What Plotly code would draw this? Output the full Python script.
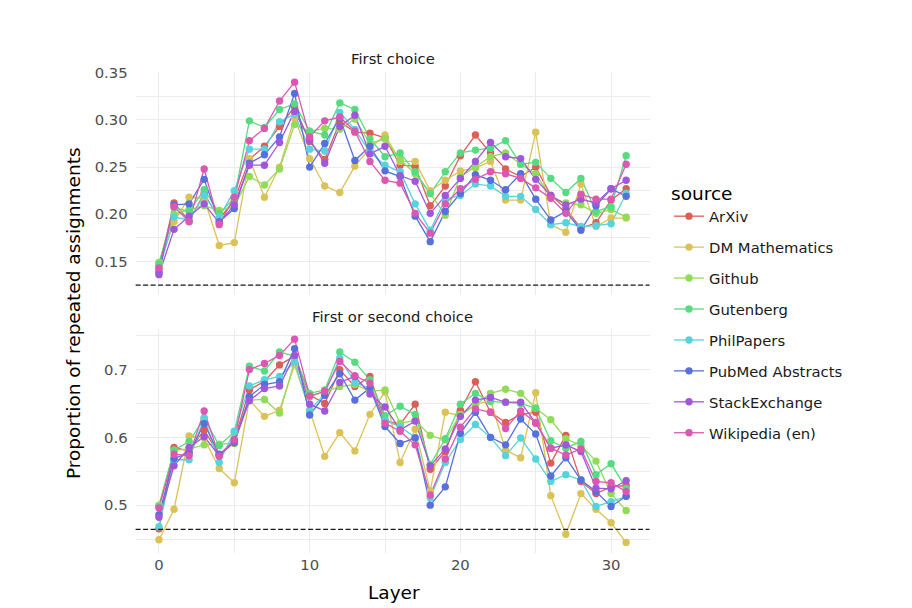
import plotly.graph_objects as go

layers = list(range(32))
sources = ["ArXiv", "DM Mathematics", "Github", "Gutenberg", "PhilPapers",
           "PubMed Abstracts", "StackExchange", "Wikipedia (en)"]
colors = ["#DB5E57", "#DBC257", "#91DB57", "#57DB80", "#57D3DB",
          "#5770DB", "#A157DB", "#DB57B2"]
panels = ["First choice", "First or second choice"]
baselines = [0.125, 13 / 28]

# ---- First choice ----
first_arxiv = [0.142, 0.212, 0.193, 0.222, 0.195, 0.215, 0.258, 0.272, 0.293, 0.314, 0.277, 0.258,
               0.298, 0.287, 0.286, 0.281, 0.252, 0.251, 0.209, 0.230, 0.262, 0.284, 0.265, 0.248,
               0.240, 0.250, 0.220, 0.206, 0.185, 0.191, 0.215, 0.227]
first_dm = [0.145, 0.192, 0.218, 0.217, 0.167, 0.170, 0.259, 0.218, 0.250, 0.302, 0.259, 0.230,
            0.223, 0.251, 0.270, 0.284, 0.256, 0.256, 0.225, 0.236, 0.246, 0.249, 0.256, 0.215,
            0.215, 0.287, 0.189, 0.181, 0.232, 0.187, 0.196, 0.196]
first_github = [0.149, 0.200, 0.205, 0.209, 0.204, 0.208, 0.240, 0.231, 0.248, 0.295, 0.288, 0.291,
                0.290, 0.301, 0.275, 0.280, 0.258, 0.243, 0.222, 0.199, 0.240, 0.250, 0.261, 0.265,
                0.253, 0.243, 0.218, 0.212, 0.210, 0.201, 0.205, 0.197]
first_gutenberg = [0.147, 0.207, 0.203, 0.226, 0.201, 0.217, 0.299, 0.292, 0.311, 0.317, 0.288, 0.284,
                   0.318, 0.311, 0.280, 0.261, 0.265, 0.245, 0.222, 0.245, 0.265, 0.268, 0.270, 0.278,
                   0.253, 0.255, 0.238, 0.223, 0.238, 0.203, 0.208, 0.262]
first_philpapers = [0.140, 0.197, 0.194, 0.220, 0.197, 0.225, 0.269, 0.269, 0.298, 0.306, 0.269, 0.267,
                    0.308, 0.290, 0.266, 0.252, 0.245, 0.211, 0.183, 0.216, 0.220, 0.232, 0.230, 0.219,
                    0.219, 0.205, 0.189, 0.191, 0.187, 0.188, 0.190, 0.222]
first_pubmed = [0.138, 0.210, 0.211, 0.237, 0.192, 0.206, 0.254, 0.263, 0.282, 0.328, 0.250, 0.275,
                0.302, 0.257, 0.272, 0.246, 0.240, 0.198, 0.171, 0.203, 0.222, 0.242, 0.236, 0.226,
                0.243, 0.216, 0.194, 0.203, 0.183, 0.209, 0.227, 0.219]
first_stackexchange = [0.136, 0.184, 0.198, 0.211, 0.191, 0.210, 0.252, 0.252, 0.276, 0.309, 0.279, 0.254,
                       0.293, 0.305, 0.264, 0.272, 0.241, 0.235, 0.201, 0.220, 0.238, 0.256, 0.276, 0.261,
                       0.259, 0.237, 0.220, 0.210, 0.216, 0.212, 0.227, 0.236]
first_wikipedia = [0.143, 0.208, 0.192, 0.248, 0.189, 0.218, 0.278, 0.291, 0.320, 0.340, 0.282, 0.299,
                   0.303, 0.288, 0.256, 0.236, 0.233, 0.201, 0.180, 0.211, 0.227, 0.237, 0.245, 0.243,
                   0.238, 0.228, 0.217, 0.201, 0.221, 0.216, 0.216, 0.253]

# ---- First or second choice ----
both_arxiv = [0.465, 0.585, 0.580, 0.611, 0.574, 0.596, 0.670, 0.683, 0.707, 0.720, 0.663, 0.650,
              0.700, 0.675, 0.690, 0.625, 0.619, 0.649, 0.553, 0.579, 0.640, 0.682, 0.637, 0.622,
              0.634, 0.637, 0.562, 0.603, 0.535, 0.517, 0.527, 0.529]
both_dm = [0.449, 0.494, 0.602, 0.599, 0.554, 0.533, 0.655, 0.631, 0.640, 0.707, 0.640, 0.572,
           0.607, 0.580, 0.634, 0.667, 0.563, 0.612, 0.521, 0.637, 0.632, 0.648, 0.655, 0.581,
           0.570, 0.666, 0.514, 0.457, 0.517, 0.494, 0.474, 0.445]
both_github = [0.500, 0.581, 0.583, 0.589, 0.590, 0.591, 0.655, 0.656, 0.636, 0.712, 0.660, 0.668,
               0.675, 0.678, 0.668, 0.670, 0.621, 0.625, 0.603, 0.596, 0.634, 0.648, 0.665, 0.671,
               0.665, 0.643, 0.626, 0.598, 0.588, 0.565, 0.517, 0.492]
both_gutenberg = [0.498, 0.581, 0.594, 0.628, 0.588, 0.608, 0.705, 0.698, 0.726, 0.720, 0.665, 0.670,
                  0.726, 0.711, 0.685, 0.632, 0.646, 0.634, 0.560, 0.598, 0.649, 0.665, 0.653, 0.652,
                  0.650, 0.643, 0.595, 0.584, 0.594, 0.545, 0.561, 0.525]
both_philpapers = [0.468, 0.567, 0.567, 0.629, 0.563, 0.609, 0.676, 0.685, 0.690, 0.711, 0.639, 0.665,
                   0.717, 0.681, 0.672, 0.625, 0.616, 0.600, 0.511, 0.563, 0.597, 0.619, 0.600, 0.573,
                   0.599, 0.568, 0.535, 0.545, 0.537, 0.498, 0.505, 0.513]
both_pubmed = [0.486, 0.569, 0.577, 0.620, 0.575, 0.592, 0.660, 0.678, 0.682, 0.731, 0.633, 0.662,
               0.694, 0.655, 0.673, 0.616, 0.591, 0.599, 0.500, 0.527, 0.606, 0.637, 0.600, 0.589,
               0.627, 0.605, 0.543, 0.570, 0.537, 0.520, 0.498, 0.513]
both_stackexchange = [0.482, 0.558, 0.585, 0.601, 0.573, 0.594, 0.654, 0.672, 0.676, 0.721, 0.649, 0.639,
                      0.681, 0.690, 0.664, 0.645, 0.611, 0.624, 0.558, 0.583, 0.631, 0.655, 0.659, 0.652,
                      0.652, 0.621, 0.584, 0.589, 0.579, 0.525, 0.524, 0.536]
both_wikipedia = [0.496, 0.575, 0.573, 0.639, 0.572, 0.597, 0.700, 0.709, 0.721, 0.745, 0.661, 0.668,
                  0.712, 0.691, 0.680, 0.621, 0.609, 0.589, 0.515, 0.568, 0.615, 0.642, 0.637, 0.613,
                  0.639, 0.622, 0.584, 0.574, 0.583, 0.535, 0.533, 0.520]

first_series = [first_arxiv, first_dm, first_github, first_gutenberg, first_philpapers,
                first_pubmed, first_stackexchange, first_wikipedia]
both_series = [both_arxiv, both_dm, both_github, both_gutenberg, both_philpapers,
               both_pubmed, both_stackexchange, both_wikipedia]

W, H = 912, 608
def px_x(p):
    return p / W
def px_y(p):
    return 1 - p / H

fig = go.Figure()

panel_data = [(first_series, "x", "y"), (both_series, "x2", "y2")]
# lines first, then points on top (as in geom_line + geom_point)
for series, xa, ya in panel_data:
    for name, col, vals in zip(sources, colors, series):
        fig.add_trace(go.Scatter(x=layers, y=vals, mode="lines", xaxis=xa, yaxis=ya,
                                 line=dict(color=col, width=1.3), showlegend=False,
                                 hoverinfo="skip"))
for series, xa, ya in panel_data:
    for name, col, vals in zip(sources, colors, series):
        fig.add_trace(go.Scatter(x=layers, y=vals, mode="markers", xaxis=xa, yaxis=ya,
                                 marker=dict(color=col, size=7.4), showlegend=False,
                                 name=name))
# legend entries
for name, col in zip(sources, colors):
    fig.add_trace(go.Scatter(x=[None], y=[None], mode="lines+markers", name=name,
                             legendgroup=name, xaxis="x", yaxis="y",
                             line=dict(color=col, width=1.3),
                             marker=dict(color=col, size=7.4)))

# baselines
for yref, b in zip(["y", "y2"], baselines):
    fig.add_shape(type="line", xref="x domain" if yref == "y" else "x2 domain",
                  x0=0, x1=1, yref=yref, y0=b, y1=b,
                  line=dict(color="#1a1a1a", width=1.3, dash="5px,2.5px"), layer="above")

xdom = [px_x(135.6), px_x(649.5)]
grid = "#EBEBEB"
tickfont = dict(family="DejaVu Sans", size=14.8, color="#4D4D4D")
common_x = dict(domain=xdom, range=[-1.55, 32.55], dtick=10, tick0=0,
                showgrid=True, gridcolor=grid, gridwidth=1.4, zeroline=False,
                showline=False, ticks="", ticklabelstandoff=1,
                minor=dict(dtick=5, tick0=0, showgrid=True, gridcolor=grid, gridwidth=0.7),
                tickfont=tickfont, automargin=False)
common_y = dict(showgrid=True, gridcolor=grid, gridwidth=1.4, zeroline=False,
                showline=False, ticks="outside", ticklen=4, tickcolor="rgba(0,0,0,0)",
                tickfont=tickfont, automargin=False)

fig.update_layout(
    width=W, height=H,
    margin=dict(l=0, r=0, t=0, b=0),
    paper_bgcolor="white", plot_bgcolor="white",
    font=dict(family="DejaVu Sans", color="#1a1a1a"),
    xaxis=dict(common_x, anchor="y", showticklabels=False),
    xaxis2=dict(common_x, anchor="y2", matches="x"),
    yaxis=dict(common_y, domain=[px_y(295.2), px_y(72.0)], range=[0.11425, 0.35075],
               dtick=0.05, tick0=0.15, tickformat=".2f",
               minor=dict(dtick=0.025, tick0=0.125, showgrid=True, gridcolor=grid, gridwidth=0.7)),
    yaxis2=dict(common_y, domain=[px_y(553.3), px_y(328.9)], range=[0.4289, 0.7601],
                dtick=0.1, tick0=0.5, tickformat=".1f",
                minor=dict(dtick=0.05, tick0=0.45, showgrid=True, gridcolor=grid, gridwidth=0.7)),
    legend=dict(x=px_x(669), y=px_y(176), xanchor="left", yanchor="top",
                title=dict(text="source", font=dict(size=18.5, color="black")),
                font=dict(size=14.8, color="#1a1a1a"), tracegroupgap=8.7,
                bgcolor="rgba(0,0,0,0)"),
    showlegend=True,
)

# strip titles
for i, (title, yc) in enumerate(zip(panels, [58, 316])):
    fig.add_annotation(text=title, xref="x domain" if i == 0 else "x2 domain", x=0.5,
                       yref="paper", y=px_y(yc), showarrow=False, yanchor="middle",
                       font=dict(size=14.8, color="#1a1a1a"))

# axis titles
fig.add_annotation(text="Layer", xref="paper", yref="paper", x=px_x(393.5), y=px_y(592),
                   showarrow=False, yanchor="middle", font=dict(size=18.5, color="black"))
fig.add_annotation(text="Proportion of repeated assignments", xref="paper", yref="paper",
                   x=px_x(73), y=px_y(313), textangle=-90, showarrow=False,
                   xanchor="center", yanchor="middle", font=dict(size=18.5, color="black"))

fig.write_html("out.html", config={"displayModeBar": False},
               post_script="document.body.style.margin='0';document.body.style.padding='0';")
